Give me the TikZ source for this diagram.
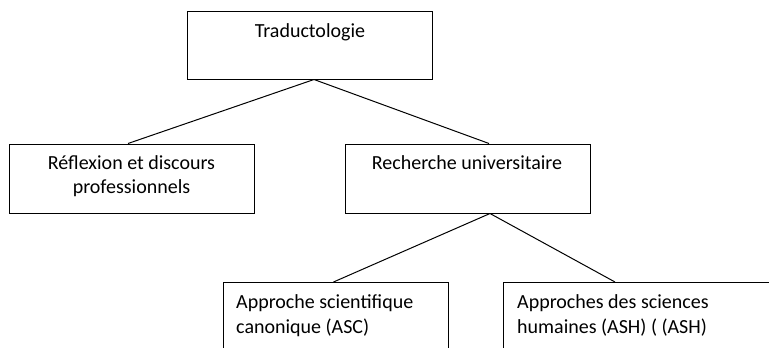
\documentclass[tikz,border=0pt]{standalone}
\usepackage{fontspec}
\setmainfont{Carlito}
\begin{document}
\begin{tikzpicture}[x=1pt,y=-1pt,
  box/.style={draw, line width=1pt, rectangle, inner sep=0pt},
  txt/.style={inner sep=0pt, font=\fontsize{20}{24.5}\selectfont},
  link/.style={line width=1pt}]
\useasboundingbox (0,0) rectangle (769,348);
\clip (0,0) rectangle (769,348);
% boxes
\node[box, minimum width=245pt, minimum height=68pt] (top) at (309.5,45) {};
\node[box, minimum width=245pt, minimum height=69pt] (L) at (131.5,178.5) {};
\node[box, minimum width=245pt, minimum height=69pt] (R) at (467.5,178.5) {};
\node[box, minimum width=225pt, minimum height=100pt, anchor=north west] (BL) at (223,282) {};
\node[box, minimum width=300pt, minimum height=100pt, anchor=north west] (BR) at (503,282) {};
% texts
\node[txt, anchor=base] (t1) at (310,37) {Traductologie};
\node[txt, anchor=base, align=center] (t2) at (131.5,193.5) {Réflexion et discours\\professionnels};
\node[txt, anchor=base] (t3) at (467,169) {Recherche universitaire};
\node[txt, anchor=base west, align=left] (t4) at (236,333) {Approche scientifique\\canonique (ASC)};
\node[txt, anchor=base west, align=left] (t5) at (517,333) {Approches des sciences\\humaines (ASH) ( (ASH)};
% connectors
\draw[link] ([xshift=4.5pt]top.south) -- ([xshift=-3.5pt]L.north);
\draw[link] ([xshift=4.5pt]top.south) -- ([xshift=21.5pt]R.north);
\draw[link] ([xshift=22.5pt]R.south) -- ([xshift=-2.5pt]BL.north);
\draw[link] ([xshift=22.5pt]R.south) -- ([xshift=112pt]BR.north west);
\end{tikzpicture}
\end{document}
